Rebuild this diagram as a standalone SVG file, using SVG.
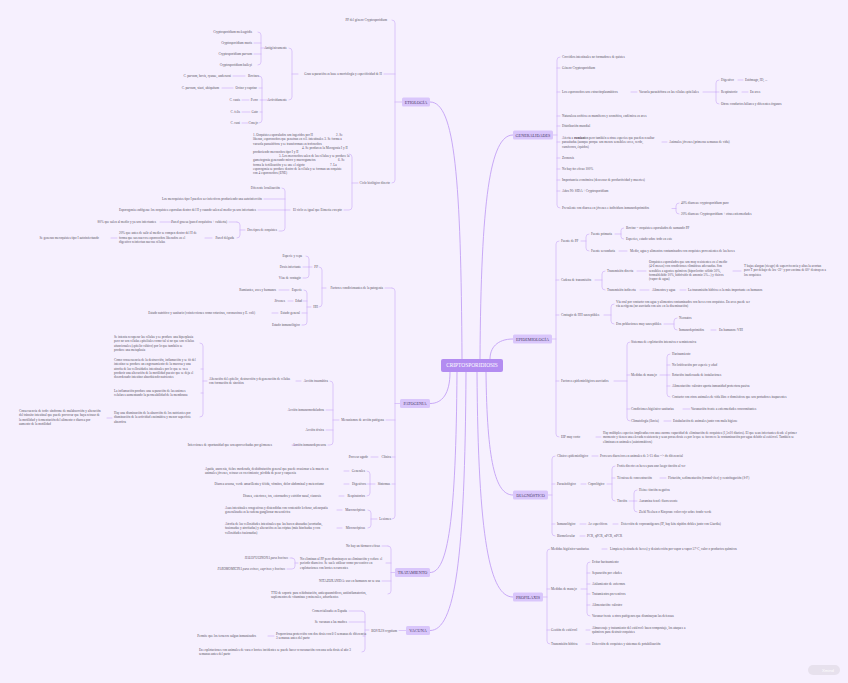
<svg xmlns="http://www.w3.org/2000/svg" width="848" height="683" viewBox="0 0 848 683">
<style>
.t{font-family:"Liberation Serif","Times New Roman",serif;font-size:3.3px;fill:#57515f}
.r{text-anchor:end}
.m{font-family:"Liberation Serif","Times New Roman",serif;font-size:4.2px;fill:#4a3a66;text-anchor:middle}
.mb{fill:#d9c6fb}
.c{fill:none;stroke:#c9aaf6;stroke-width:0.6;stroke-linecap:round}
.cm{fill:none;stroke:#c3a0f5;stroke-width:0.9}
</style>
<rect width="848" height="683" fill="#f6f0fe"/>
<g id="connectors">
<path class="cm" d="M430,102 C455,102 461,180 462,359"/>
<path class="cm" d="M513,135 C490,135 481,200 480,359"/>
<path class="cm" d="M513,339 C497,339 490,348 490,359"/>
<path class="cm" d="M450,372 C450,394 442,403.5 430,403.5"/>
<path class="cm" d="M486,372 C487,460 495,495 513,495"/>
<path class="cm" d="M457,372 C456,520 448,572.5 430,572.5"/>
<path class="cm" d="M466,372 C465,560 455,630.5 430,630.5"/>
<path class="cm" d="M477,372 C478,540 490,597 513,597"/>
<path class="c" d="M402,102 H395 M392,20 Q395,20 395,23 V180 Q395,183 392,183 M395,74 H384"/>
<path class="c" d="M298,74 H292 M289,48 Q292,48 292,51 V97 Q292,100 289,100"/>
<path class="c" d="M266,48 H261 M258,32 Q261,32 261,35 V62 Q261,65 258,65 M261,43 H254 M261,54 H254"/>
<path class="c" d="M269,100 H262 M259,76 Q262,76 262,79 V120 Q262,123 259,123 M262,88 H259 M262,100 H260 M262,112 H260"/>
<path class="c" d="M233,76 H245 M222,88 H233 M242,100 H249 M242,112 H250 M242,123 H248"/>
<path class="c" d="M358,183 H352 M349,154 Q352,154 352,157 V207 Q352,210 349,210 H344"/>
<path class="c" d="M290,210 H285 M282,188 Q285,188 285,191 V228 Q285,231 282,231 H279 M285,199 H264 M285,210 H258"/>
<path class="c" d="M245,230 H240 M237,222 Q240,222 240,225 V235 Q240,238 237,238 M237,222 H229"/>
<path class="c" d="M160,222 H172 M205,238 H212 M111,238 H117"/>
<path class="c" d="M400,403.5 H395 M392,288 Q395,288 395,291 V516 Q395,519 392,519 M392,288 H385 M395,420 H386 M395,457 H392 M395,484 H392"/>
<path class="c" d="M371,457 H378"/>
<path class="c" d="M326,288 H322 M319,267 Q322,267 322,270 V304 Q322,307 319,307"/>
<path class="c" d="M312,267 H309 M306,256 Q309,256 309,259 V275 Q309,278 306,278 H303 M309,267 H303"/>
<path class="c" d="M311,307 H307 M304,290 Q307,290 307,293 V322 Q307,325 304,325 H302 M307,301 H303 M307,313 H302"/>
<path class="c" d="M279,290 H289 M288,301 H293 M272,313 H278"/>
<path class="c" d="M339,420 H333 M330,381 Q333,381 333,384 V442 Q333,445 330,445 H328 M333,410 H326 M333,430 H326"/>
<path class="c" d="M296,381 H301 M207,381 H203 M200,343 Q203,343 203,346 V414 Q203,417 200,417 M203,369 H201 M203,393 H201 M107,418 H112"/>
<path class="c" d="M292,445 H298"/>
<path class="c" d="M375,484 H370 M367,471 Q370,471 370,474 V493 Q370,496 367,496 M370,484 H367"/>
<path class="c" d="M344,471 H349 M344,484 H349 M339,496 H344"/>
<path class="c" d="M377,519 H371 M368,510 Q371,510 371,513 V525 Q371,528 368,528"/>
<path class="c" d="M337,510 H342 M337,528 H342"/>
<path class="c" d="M395,572.5 H391 M388,546 Q391,546 391,549 V591 Q391,594 388,594 M388,546 H382 M391,563 H386 M391,581 H382"/>
<path class="c" d="M298,563 H295 M292,558 Q295,558 295,561 V566 Q295,569 292,569 H287 M292,558 H290"/>
<path class="c" d="M406,630.5 H399 M369,630 H365 M362,611 Q365,611 365,614 V649 Q365,652 362,652 M362,611 H349 M365,622 H349 M365,636 H363"/>
<path class="c" d="M268,636 H274"/>
<path class="c" d="M553,135 H557 M560,57 Q557,57 557,60 V205 Q557,208 560,208 M557,68 H560 M557,92 H560 M557,116 H560 M557,126 H560 M557,142 H560 M557,158 H560 M557,169 H560 M557,180 H560 M557,191 H560"/>
<path class="c" d="M631,92 H637 M703,92 H716 M719,80 Q716,80 716,83 V101 Q716,104 719,104 M716,92 H719"/>
<path class="c" d="M738,80 H743 M742,92 H748 M662,142 H667"/>
<path class="c" d="M672,208.5 H676 M679,203 Q676,203 676,206 V211 Q676,214 679,214"/>
<path class="c" d="M552,339 H556 M559,241 Q556,241 556,244 V434 Q556,437 559,437 M556,280 H559 M556,315 H559 M556,381 H559"/>
<path class="c" d="M581,241 H586 M589,234 Q586,234 586,237 V248 Q586,251 589,251"/>
<path class="c" d="M615,234 H621 M623.5,228 Q621,228 621,230.5 V236.5 Q621,239 623.5,239"/>
<path class="c" d="M619,251 H627"/>
<path class="c" d="M595,280 H602 M605,271 Q602,271 602,274 V287 Q602,290 605,290"/>
<path class="c" d="M637,271 H646 M733,271 H741 M640,290 H649 M680,290 H686"/>
<path class="c" d="M604,315 H611 M614,304 Q611,304 611,307 V321 Q611,324 614,324"/>
<path class="c" d="M664,324 H674 M677,318 Q674,318 674,321 V327 Q674,330 677,330 M711,330 H716"/>
<path class="c" d="M614,381 H627 M630,342 Q627,342 627,345 V418 Q627,421 630,421 M627,375 H630 M627,409 H630"/>
<path class="c" d="M660,375 H667 M670,354 Q667,354 667,357 V394 Q667,397 670,397 M667,365 H670 M667,375 H670 M667,386 H670"/>
<path class="c" d="M683,409 H690 M664,421 H671 M596,437 H601"/>
<path class="c" d="M548,495 H552 M555,456 Q552,456 552,459 V533 Q552,536 555,536 M552,484 H555 M552,524 H555"/>
<path class="c" d="M592,456 H598 M581,484 H586 M607,484 H612 M615,466 Q612,466 612,469 V498 Q612,501 615,501 M612,478 H615"/>
<path class="c" d="M660,478 H666 M629,501 H634 M637,490 Q634,490 634,493 V509 Q634,512 637,512 M634,501 H637"/>
<path class="c" d="M580,524 H586 M613,524 H618 M580,536 H585"/>
<path class="c" d="M543,597 H547 M550,549 Q547,549 547,552 V641 Q547,644 550,644 M547,589 H550 M547,630 H550"/>
<path class="c" d="M602,549 H607 M581,589 H587 M590,562 Q587,562 587,565 V613 Q587,616 590,616 M587,573 H590 M587,584 H590 M587,594 H590 M587,605 H590"/>
<path class="c" d="M586,630 H590 M586,644 H590"/>
</g>

<g id="central"><rect x="441" y="359" width="62" height="13" rx="2" fill="#b38cf1"/><text x="472" y="367.4" font-family="Liberation Serif, serif" font-size="5.4" fill="#ffffff" text-anchor="middle">CRIPTOSPORIDIOSIS</text></g>

<g id="etiologia"><rect class="mb" x="402" y="97.5" width="28" height="9" rx="1.5"/><text class="m" x="416" y="103.5">ETIOLOGÍA</text></g>
<g id="et-pp"><text class="t r" x="387" y="21.1">PP del género Cryptosporidium</text></g>
<g id="et-gran"><text class="t r" x="382" y="75.1">Gran separación en base a morfología y especificidad de H</text></g>
<g id="et-antig"><text class="t r" x="287" y="49.1">Antigénicamente</text></g>
<g id="et-c1"><text class="t r" x="252" y="33.1">Cryptosporidium meleagridis</text></g>
<g id="et-c2"><text class="t r" x="252" y="44.1">Cryptosporidium muris</text></g>
<g id="et-c3"><text class="t r" x="252" y="55.1">Cryptosporidium parvum</text></g>
<g id="et-c4"><text class="t r" x="252" y="66.1">Cryptosporidium baileyi</text></g>
<g id="et-activ"><text class="t r" x="287" y="101.1">Actividamente</text></g>
<g id="et-bov"><text class="t r" x="259" y="77.1">Bovinos</text></g>
<g id="et-bov-s"><text class="t r" x="231" y="77.1">C. parvum, bovis, ryanae, andersoni</text></g>
<g id="et-ov"><text class="t r" x="257" y="89.1">Ovino y caprino</text></g>
<g id="et-ov-s"><text class="t r" x="219" y="89.1">C. parvum, xiaoi, ubiquitum</text></g>
<g id="et-per"><text class="t r" x="258" y="101.1">Perro</text></g>
<g id="et-per-s"><text class="t r" x="240" y="101.1">C. canis</text></g>
<g id="et-gat"><text class="t r" x="258" y="113.1">Gato</text></g>
<g id="et-gat-s"><text class="t r" x="240" y="113.1">C. felis</text></g>
<g id="et-con"><text class="t r" x="258" y="124.1">Conejo</text></g>
<g id="et-con-s"><text class="t r" x="240" y="124.1">C. cuni</text></g>
<g id="et-ciclo"><text class="t r" x="390" y="184.1">Ciclo biológico directo</text></g>
<g id="et-ciclo-p"><text class="t">
<tspan x="253" y="136.1">1. Ooquistes esporulados son ingeridos por H</tspan><tspan x="336" y="136.1">2. Se</tspan>
<tspan x="253" y="140.3">liberan, esporozoítos que penetran en cél. intestinales  3. Se forma a</tspan>
<tspan x="253" y="144.5">vacuola parasitófora y se transforman en trofozoítos</tspan>
<tspan x="302" y="148.7">4. Se producen la Merogonia I y II</tspan>
<tspan x="253" y="152.9">produciendo merozoítos tipo I y II</tspan>
<tspan x="279" y="157.1">5. Los merozoítos salen de las células y se produce la</tspan>
<tspan x="253" y="161.3">gametogonia generando micro y macrogametos</tspan><tspan x="338" y="161.3">6. Se</tspan>
<tspan x="253" y="165.5">forma la fertilización y se une el zigoto</tspan><tspan x="330" y="165.5">7. La</tspan>
<tspan x="253" y="169.7">esporogonia se produce dentro de la célula y se forman un ooquiste</tspan>
<tspan x="253" y="173.9">con 4 esporozoítos (ENE)</tspan></text></g>
<g id="et-igual"><text class="t r" x="342" y="211.1">El ciclo es igual que Eimeria excepto</text></g>
<g id="et-loc"><text class="t r" x="280" y="189.1">Diferente localización</text></g>
<g id="et-mero"><text class="t r" x="262" y="200.1">Los meroquistes tipo I pueden ser infectivos produciendo una autoinfección</text></g>
<g id="et-espo"><text class="t r" x="256" y="211.1">Esporogonia endógena: los ooquistes esporulan dentro del H y cuando salen al medio ya son infectantes</text></g>
<g id="et-dos"><text class="t r" x="277" y="231.1">Dos tipos de ooquistes</text></g>
<g id="et-gruesa"><text class="t r" x="227" y="223.1">Pared gruesa (pared ooquística + cubierta)</text></g>
<g id="et-80"><text class="t r" x="156" y="223.1">80% que salen al medio y ya son infectantes</text></g>
<g id="et-delg"><text class="t r" x="234" y="239.1">Pared delgada</text></g>
<g id="et-20"><text class="t"><tspan x="119" y="234.1">20% que antes de salir al medio se rompen dentro del H de</tspan><tspan x="119" y="238.5">forma que sus nuevos esporozoítos liberados en el</tspan><tspan x="119" y="242.9">digestivo reinfectan nuevas células</tspan></text></g>
<g id="et-auto"><text class="t r" x="99" y="239.1">Se generan meroquistes tipo I autoinfectando</text></g>

<g id="patogenia"><rect class="mb" x="400" y="399" width="30" height="9" rx="1.5"/><text class="m" x="415" y="405">PATOGENIA</text></g>
<g id="pa-fact"><text class="t r" x="383" y="289.1">Factores condicionantes de la patogenia</text></g>
<g id="pa-pp"><text class="t r" x="318" y="268.1">PP</text></g>
<g id="pa-pp1"><text class="t r" x="302" y="257.1">Especie y cepa</text></g>
<g id="pa-pp2"><text class="t r" x="301" y="268.1">Dosis infectante</text></g>
<g id="pa-pp3"><text class="t r" x="301" y="279.1">Vías de contagio</text></g>
<g id="pa-hh"><text class="t r" x="318" y="308.1">HH</text></g>
<g id="pa-esp"><text class="t r" x="302" y="291.1">Especie</text></g>
<g id="pa-esp-s"><text class="t r" x="276" y="291.1">Rumiantes, aves y humanos</text></g>
<g id="pa-edad"><text class="t r" x="302" y="302.1">Edad</text></g>
<g id="pa-edad-s"><text class="t r" x="285" y="302.1">Jóvenes</text></g>
<g id="pa-gen"><text class="t r" x="300" y="314.1">Estado general</text></g>
<g id="pa-gen-s"><text class="t r" x="255" y="314.1">Estado nutritivo y sanitario (coinfecciones como rotavirus, coronavirus y E. coli)</text></g>
<g id="pa-inm"><text class="t r" x="300" y="326.1">Estado inmunológico</text></g>
<g id="pa-mec"><text class="t r" x="384" y="421.1">Mecanismos de acción patógena</text></g>
<g id="pa-trau"><text class="t r" x="328" y="382.1">Acción traumática</text></g>
<g id="pa-alt"><text class="t"><tspan x="209" y="379.9">Alteración del epitelio, destrucción y degeneración de células</tspan><tspan x="209" y="384.3">con formación de sincitios</tspan></text></g>
<g id="pa-p1"><text class="t"><tspan x="114" y="338.1">Se intenta recuperar las células y se produce una hiperplasia</tspan><tspan x="114" y="342.3">pero no son células epiteliales como tal si no que son células</tspan><tspan x="114" y="346.5">afuncionales (epitelio cúbico) por lo que también se</tspan><tspan x="114" y="350.7">produce una metaplasia</tspan></text></g>
<g id="pa-p2"><text class="t"><tspan x="114" y="361.1">Como consecuencia de la destrucción, inflamación y se fit del</tspan><tspan x="114" y="365.3">intestino se produce un engrosamiento de la mucosa y una</tspan><tspan x="114" y="369.5">atrofia de las vellosidades intestinales por lo que se va a</tspan><tspan x="114" y="373.7">producir una alteración de la motilidad puesto que se deja el</tspan><tspan x="114" y="377.9">desordenado intestino absorbiendo nutrientes</tspan></text></g>
<g id="pa-p3"><text class="t"><tspan x="114" y="392.1">La inflamación produce una separación de las uniones</tspan><tspan x="114" y="396.3">celulares aumentando la permeabilidad de la membrana</tspan></text></g>
<g id="pa-p4"><text class="t"><tspan x="114" y="414.1">Hay una disminución de la absorción de los nutrientes por</tspan><tspan x="114" y="418.3">disminución de la actividad enzimática y menor superficie</tspan><tspan x="114" y="422.5">absortiva</tspan></text></g>
<g id="pa-cons"><text class="t"><tspan x="19" y="412.1">Consecuencia de todo: síndrome de malabsorción y alteración</tspan><tspan x="19" y="416.3">del tránsito intestinal que puede provocar que haya retraso de</tspan><tspan x="19" y="420.5">la motilidad y fermentación del alimento o diarrea por</tspan><tspan x="19" y="424.7">aumento de la motilidad</tspan></text></g>
<g id="pa-inmu"><text class="t r" x="324" y="411.1">Acción inmunomoduladora</text></g>
<g id="pa-tox"><text class="t r" x="324" y="431.1">Acción tóxica</text></g>
<g id="pa-dep"><text class="t r" x="326" y="446.1">Acción inmunodepresora</text></g>
<g id="pa-dep-s"><text class="t r" x="272" y="446.1">Infecciones de oportunidad que son aprovechadas por gérmenes</text></g>
<g id="pa-cli"><text class="t r" x="391" y="458.1">Clínica</text></g>
<g id="pa-agudo"><text class="t r" x="368" y="458.1">Proceso agudo</text></g>
<g id="pa-sint"><text class="t r" x="390" y="485.1">Síntomas</text></g>
<g id="pa-gen2"><text class="t r" x="365" y="472.1">Generales</text></g>
<g id="pa-gen2-s"><text class="t"><tspan x="205" y="470.1">Apatía, anorexia, fiebre moderada, deshidratación general que puede ocasionar a la muerte en</tspan><tspan x="205" y="474.3">animales jóvenes, retraso en crecimiento, pérdida de peso y caquexia</tspan></text></g>
<g id="pa-dig"><text class="t r" x="366" y="485.1">Digestivos</text></g>
<g id="pa-dig-s"><text class="t r" x="324" y="485.1">Diarrea acuosa, verde amarillenta y fétida, vómitos, dolor abdominal y meteorismo</text></g>
<g id="pa-resp"><text class="t r" x="365" y="497.1">Respiratorios</text></g>
<g id="pa-resp-s"><text class="t r" x="321" y="497.1">Disnea, estertores, tos, estornudos y estridor nasal, cianosis</text></g>
<g id="pa-les"><text class="t r" x="391" y="520.1">Lesiones</text></g>
<g id="pa-mac"><text class="t r" x="365" y="511.1">Macroscópicas</text></g>
<g id="pa-mac-s"><text class="t"><tspan x="225" y="509.1">Asas intestinales congestivas y distendidas con contenido lechoso, adenopatía</tspan><tspan x="225" y="513.3">generalizada en la cadena ganglionar mesentérica</tspan></text></g>
<g id="pa-mic"><text class="t r" x="365" y="529.1">Microscópicas</text></g>
<g id="pa-mic-s"><text class="t"><tspan x="225" y="525.1">Atrofia de las vellosidades intestinales que las hacen ahusadas (acortadas,</tspan><tspan x="225" y="529.3">fusionadas y atrofiadas) y alteración en las criptas (más hinchadas y con</tspan><tspan x="225" y="533.5">vellosidades fusionadas)</tspan></text></g>

<g id="tratamiento"><rect class="mb" x="395" y="568" width="35" height="9" rx="1.5"/><text class="m" x="412.5" y="574">TRATAMIENTO</text></g>
<g id="tr-1"><text class="t r" x="380" y="547.1">No hay un fármaco eficaz</text></g>
<g id="tr-2"><text class="t"><tspan x="300" y="560.1">No eliminan al PP pero disminuyen su eliminación y reduce el</tspan><tspan x="300" y="564.3">periodo diarreico. Se suele utilizar como preventivo en</tspan><tspan x="300" y="568.5">explotaciones con brotes recurrentes</tspan></text></g>
<g id="tr-halo"><text class="t r" x="288" y="559.1" font-style="italic">HALOFUGINONA para bovinos</text></g>
<g id="tr-paro"><text class="t r" x="285" y="570.1" font-style="italic">PAROMOMICINA para ovinos, caprinos y bovinos</text></g>
<g id="tr-3"><text class="t r" x="380" y="582.1">NITAZOXANIDA: uso en humanos no se usa</text></g>
<g id="tr-4"><text class="t"><tspan x="271" y="594.1">TTO de soporte para rehidratación, antiespasmódicos, antiinflamatorios,</tspan><tspan x="271" y="598.3">suplementos de vitaminas y minerales, adsorbentes</tspan></text></g>

<g id="vacuna"><rect class="mb" x="406" y="626" width="24" height="9" rx="1.5"/><text class="m" x="418" y="632">VACUNA</text></g>
<g id="va-bov"><text class="t r" x="397" y="631.6">BOVILIS cryptium</text></g>
<g id="va-1"><text class="t r" x="347" y="612.1">Comercializada en España</text></g>
<g id="va-2"><text class="t r" x="347" y="623.1">Se vacunan a las madres</text></g>
<g id="va-3"><text class="t"><tspan x="276" y="635.1">Proporciona protección con dos dosis con 6-3 semanas de diferencia</tspan><tspan x="276" y="639.3">3 semanas antes del parto</tspan></text></g>
<g id="va-3s"><text class="t r" x="256" y="637.1">Permite que los terneros salgan inmunizados</text></g>
<g id="va-4"><text class="t"><tspan x="199" y="651.1">En explotaciones con animales de vaca o brotes incidentes se puede hacer revacunación con una sola dosis al año 3</tspan><tspan x="199" y="655.3">semanas antes del parto</tspan></text></g>

<g id="generalidades"><rect class="mb" x="513" y="130.5" width="40" height="9" rx="1.5"/><text class="m" x="533" y="136.5">GENERALIDADES</text></g>
<g id="ge-1"><text class="t" x="562" y="58.1">Coccidios intestinales no formadores de quistes</text></g>
<g id="ge-2"><text class="t" x="562" y="69.1">Género Cryptosporidium</text></g>
<g id="ge-3"><text class="t" x="562" y="93.1">Los esporozoítos son extracitoplasmáticos</text></g>
<g id="ge-3a"><text class="t" x="639" y="93.1">Vacuola parasitófora en las células epiteliales</text></g>
<g id="ge-dig"><text class="t" x="721" y="81.1">Digestivo</text></g>
<g id="ge-dig-s"><text class="t" x="745" y="81.1">Estómago, ID, ...</text></g>
<g id="ge-resp"><text class="t" x="721" y="93.1">Respiratorio</text></g>
<g id="ge-resp-s"><text class="t" x="750" y="93.1">En aves</text></g>
<g id="ge-otros"><text class="t" x="721" y="105.1">Otros: conductos biliares y diferentes órganos</text></g>
<g id="ge-4"><text class="t" x="562" y="117.1">Naturaleza zoótica en mamíferos y zoonótica, endémica en aves</text></g>
<g id="ge-5"><text class="t" x="562" y="127.1">Distribución mundial</text></g>
<g id="ge-6"><text class="t"><tspan x="562" y="139.1">Afecta a <tspan font-weight="bold">rumiantes</tspan> pero también a otras especies que pueden resultar</tspan><tspan x="562" y="143.3">parasitadas (aunque porque son menos sensibles: aves, cerdo,</tspan><tspan x="562" y="147.5">carnívoros, équidos)</tspan></text></g>
<g id="ge-6a"><text class="t" x="669" y="143.1">Animales jóvenes (primeras semanas de vida)</text></g>
<g id="ge-7"><text class="t" x="562" y="159.1">Zoonosis</text></g>
<g id="ge-8"><text class="t" x="562" y="170.1">No hay tto eficaz 100%</text></g>
<g id="ge-9"><text class="t" x="562" y="181.1">Importancia económica (descenso de productividad y muertes)</text></g>
<g id="ge-10"><text class="t" x="562" y="192.1">Años 90: SIDA + Cryptosporidium</text></g>
<g id="ge-11"><text class="t" x="562" y="209.1">Prevalente con diarrea en jóvenes e individuos inmunodeprimidos</text></g>
<g id="ge-11a"><text class="t" x="681" y="204.1">40% diarreas: cryptosporidium puro</text></g>
<g id="ge-11b"><text class="t" x="681" y="215.1">20% diarreas: Cryptosporidium + otras enfermedades</text></g>

<g id="epidemiologia"><rect class="mb" x="513" y="334.5" width="39" height="9" rx="1.5"/><text class="m" x="532.5" y="340.5">EPIDEMIOLOGÍA</text></g>
<g id="ep-fuente"><text class="t" x="561" y="242.1">Fuente de PP</text></g>
<g id="ep-prim"><text class="t" x="591" y="235.1">Fuente primaria</text></g>
<g id="ep-prim1"><text class="t" x="626" y="229.1">Bovino = ooquistes esporulados de sumando PP</text></g>
<g id="ep-prim2"><text class="t" x="626" y="240.1">Especies, estado sobre todo en este</text></g>
<g id="ep-sec"><text class="t" x="591" y="252.1">Fuente secundaria</text></g>
<g id="ep-sec-s"><text class="t" x="630" y="252.1">Medio, agua y alimentos contaminados con ooquistes provenientes de las heces</text></g>
<g id="ep-cad"><text class="t" x="561" y="281.1">Cadena de transmisión</text></g>
<g id="ep-dir"><text class="t" x="607" y="272.1">Transmisión directa</text></g>
<g id="ep-dir-s"><text class="t"><tspan x="649" y="263.1">Ooquistes esporulados que son muy resistentes en el medio</tspan><tspan x="649" y="267.3">(4-6 meses) con condiciones climáticas adecuadas. Son</tspan><tspan x="649" y="271.5">sensibles a agentes químicos (hipoclorito: sólido 50%,</tspan><tspan x="649" y="275.7">formaldehído 10%, hidróxido de amonio 5%...) y físicos</tspan><tspan x="649" y="279.9">(vapor de agua)</tspan></text></g>
<g id="ep-temp"><text class="t"><tspan x="744" y="267.1">T bajas alargan (riesgo) de supervivencia y altas la acortan</tspan><tspan x="744" y="271.3">pero T por debajo de los -22° y por encima de 60° destruyen a</tspan><tspan x="744" y="275.5">los ooquistes</tspan></text></g>
<g id="ep-ind"><text class="t" x="607" y="291.1">Transmisión indirecta</text></g>
<g id="ep-ind-s"><text class="t" x="652" y="291.1">Alimentos y agua</text></g>
<g id="ep-hid"><text class="t" x="688" y="291.1">La transmisión hídrica es la más importante en humanos</text></g>
<g id="ep-cont"><text class="t" x="561" y="316.1">Contagio de HH susceptibles</text></g>
<g id="ep-via"><text class="t"><tspan x="616" y="303.1">Vía oral por contacto con agua y alimentos contaminados con heces con ooquistes. En aves puede ser</tspan><tspan x="616" y="307.3">vía aerógena (no asociada con aire en la diseminación)</tspan></text></g>
<g id="ep-dos"><text class="t" x="616" y="325.1">Dos poblaciones muy susceptibles</text></g>
<g id="ep-neo"><text class="t" x="679" y="319.1">Neonatos</text></g>
<g id="ep-inm"><text class="t" x="679" y="331.1">Inmunodeprimidos</text></g>
<g id="ep-vih"><text class="t" x="719" y="331.1">En humanos: VIH</text></g>
<g id="ep-fac"><text class="t" x="561" y="382.1">Factores epidemiológicos asociados</text></g>
<g id="ep-sis"><text class="t" x="631" y="343.1">Sistemas de explotación intensiva o semintensiva</text></g>
<g id="ep-man"><text class="t" x="631" y="376.1">Medidas de manejo</text></g>
<g id="ep-m1"><text class="t" x="672" y="355.1">Hacinamiento</text></g>
<g id="ep-m2"><text class="t" x="672" y="366.1">No lotificación por especie y edad</text></g>
<g id="ep-m3"><text class="t" x="672" y="376.1">Rotación inadecuada de instalaciones</text></g>
<g id="ep-m4"><text class="t" x="672" y="387.1">Alimentación: calostro aporta inmunidad protectora pasiva</text></g>
<g id="ep-m5"><text class="t" x="672" y="398.1">Contacto con otros animales de vida libre o domésticos que son portadores inaparentes</text></g>
<g id="ep-hig"><text class="t" x="631" y="410.1">Condiciones higiénico sanitarias</text></g>
<g id="ep-hig-s"><text class="t" x="691" y="410.1">Vacunación frente a enfermedades concomitantes</text></g>
<g id="ep-clim"><text class="t" x="631" y="422.1">Climatología (lluvia)</text></g>
<g id="ep-clim-s"><text class="t" x="673" y="422.1">Estabulación de animales junto con mala higiene</text></g>
<g id="ep-eip"><text class="t" x="561" y="438.1">EIP muy corto</text></g>
<g id="ep-eip-s"><text class="t"><tspan x="603" y="434.1">Hay múltiples especies implicadas con una enorme capacidad de eliminación de ooquistes (1,5x10 diarios). El que sean infectantes desde el primer</tspan><tspan x="603" y="438.3">momento y tienen una elevada resistencia y sean pocas dosis es por lo que se favorece la contaminación por agua debido al estiércol. También se</tspan><tspan x="603" y="442.5">eliminan en animales (asintomáticos)</tspan></text></g>

<g id="diagnostico"><rect class="mb" x="513" y="490.5" width="35" height="9" rx="1.5"/><text class="m" x="530.5" y="496.5">DIAGNÓSTICO</text></g>
<g id="di-cli"><text class="t" x="557" y="457.1">Clínico epidemiológico</text></g>
<g id="di-cli-s"><text class="t" x="600" y="457.1">Procesos diarreicos en animales de 5-15 días --&gt; dx diferencial</text></g>
<g id="di-par"><text class="t" x="557" y="485.1">Parasitológico</text></g>
<g id="di-cop"><text class="t" x="588" y="485.1">Coprológico</text></g>
<g id="di-frot"><text class="t" x="617" y="467.1">Frotis directo en heces para uno luego tinción al ver</text></g>
<g id="di-tec"><text class="t" x="617" y="479.1">Técnicas de concentración</text></g>
<g id="di-tec-s"><text class="t" x="668" y="479.1">Flotación, sedimentación (formol-éter) y centrifugación (S-F)</text></g>
<g id="di-tin"><text class="t" x="617" y="502.1">Tinción</text></g>
<g id="di-t1"><text class="t" x="639" y="491.1">Heine: tinción negativa</text></g>
<g id="di-t2"><text class="t" x="639" y="502.1">Auramina fenol: fluorescente</text></g>
<g id="di-t3"><text class="t" x="639" y="513.1">Ziehl Neelsen o Kinyoun: color rojo sobre fondo verde</text></g>
<g id="di-inm"><text class="t" x="557" y="525.1">Inmunológico</text></g>
<g id="di-ac"><text class="t" x="588" y="525.1">Ac específicos</text></g>
<g id="di-det"><text class="t" x="621" y="525.1">Detección de coproantígenos (IF, hay kits rápidos dobles junto con Giardia)</text></g>
<g id="di-bio"><text class="t" x="557" y="537.1">Biomolecular</text></g>
<g id="di-pcr"><text class="t" x="587" y="537.1">PCR, qPCR, nPCR, rtPCR</text></g>

<g id="profilaxis"><rect class="mb" x="513" y="592.5" width="30" height="9" rx="1.5"/><text class="m" x="528" y="598.5">PROFILAXIS</text></g>
<g id="pr-hig"><text class="t" x="551" y="550.1">Medidas higiénico-sanitarias</text></g>
<g id="pr-hig-s"><text class="t" x="610" y="550.1">Limpieza (retirada de heces) y desinfección por vapor a vapor 57°C, calor o productos químicos</text></g>
<g id="pr-man"><text class="t" x="551" y="590.1">Medidas de manejo</text></g>
<g id="pr-m1"><text class="t" x="592" y="563.1">Evitar hacinamiento</text></g>
<g id="pr-m2"><text class="t" x="592" y="574.1">Separación por edades</text></g>
<g id="pr-m3"><text class="t" x="592" y="585.1">Aislamiento de enfermos</text></g>
<g id="pr-m4"><text class="t" x="592" y="595.1">Tratamientos preventivos</text></g>
<g id="pr-m5"><text class="t" x="592" y="606.1">Alimentación: calostro</text></g>
<g id="pr-m6"><text class="t" x="592" y="617.1">Vacunar frente a otros patógenos que disminuyan las defensas</text></g>
<g id="pr-est"><text class="t" x="551" y="631.1">Gestión de estiércol</text></g>
<g id="pr-est-s"><text class="t"><tspan x="592" y="629.1">Almacenaje y tratamiento del estiércol: buen compostaje, los ataques a</tspan><tspan x="592" y="633.3">químicos para destruir ooquistes</tspan></text></g>
<g id="pr-hid"><text class="t" x="551" y="645.1">Transmisión hídrica</text></g>
<g id="pr-hid-s"><text class="t" x="592" y="645.1">Detección de ooquistes y sistemas de potabilización</text></g>

<g id="badge"><rect x="808" y="665" width="32" height="10" rx="5" fill="#e7e1ed"/><text x="828" y="671.6" font-family="Liberation Sans, sans-serif" font-size="4.2" fill="#ffffff" text-anchor="middle">Xmind</text></g>
</svg>
